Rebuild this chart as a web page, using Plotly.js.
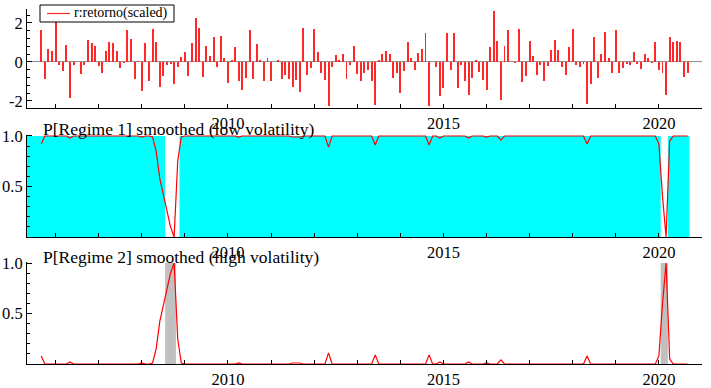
<!DOCTYPE html>
<html><head><meta charset="utf-8">
<script src="https://cdn.plot.ly/plotly-3.0.1.min.js"></script>
<style>html,body{margin:0;padding:0;background:#fff}</style>
</head><body><div id="chart" style="width:711px;height:388px"></div>
<script>
// Monthly data, first observation September 2005
const startYear = 2005, startMonth = 9;

const retorno = [
 1.64,-0.87,0.68,0.58,2.05,-0.14,-0.48,0.85,-1.86,-0.17,
 -0.02,-0.62,-0.14,1.11,0.97,0.84,-0.19,-0.56,0.58,1.03,
 0.96,0.55,-0.31,-0.05,1.62,1.18,-0.87,0.07,-1.50,0.97,
 -0.97,1.69,1.03,-1.30,-0.73,-0.17,-0.10,-1.13,-0.24,0.27,
 0.51,-0.73,0.97,2.26,1.74,-0.77,0.84,0.31,1.26,-0.24,
 1.32,0.21,-1.09,0.10,0.79,-0.97,-1.45,-0.82,1.62,-0.89,
 0.91,0.10,-0.97,0.21,-0.97,-0.02,0.10,-0.89,-0.67,-0.89,
 -1.30,-0.92,-1.56,1.73,-0.67,-0.31,1.68,0.53,-0.56,-0.92,
 -2.24,-0.26,0.36,0.10,0.43,-0.89,-0.14,0.84,-0.63,-0.99,
 -0.57,-0.41,-0.97,-2.19,0.10,0.41,0.58,0.41,-0.82,-0.56,
 -1.61,-0.44,1.01,0.21,-0.41,0.48,0.68,1.49,-2.24,0.02,
 -0.24,-1.76,-1.35,1.49,-0.41,1.49,-1.35,-0.14,-0.97,-1.71,
 -0.82,0.10,-0.50,-0.92,-1.45,0.79,2.60,1.06,-1.97,0.84,
 1.64,-0.02,-0.07,1.69,-1.03,-0.72,1.06,0.31,-0.66,-0.14,
 -0.99,-0.21,0.63,1.11,0.63,-0.24,-0.67,0.75,1.69,-0.14,
 -0.24,-0.09,-2.15,-1.15,1.26,-0.82,0.41,1.54,0.21,-0.56,
 1.64,-0.56,-0.31,-0.09,-0.14,0.53,-0.09,-0.34,0.41,0.21,
 -0.07,1.01,-0.41,-0.56,-1.71,1.30,1.04,1.09,1.04,-0.77,
 -0.56
];

const pRegime1 = [
 0.92,1,1,1,1,1,1,1,0.98,1,
 1,1,1,1,1,1,1,1,1,1,
 1,1,1,1,1,1,1,1,0.99,1,
 1,0.99,0.85,0.58,0.42,0.26,0.10,0.00,0.75,0.99,
 1,1,1,1,1,1,1,1,1,1,
 1,1,1,1,1,0.99,1,1,1,1,
 1,1,1,1,1,1,1,1,1,1,
 0.99,0.99,0.99,1,1,1,1,1,1,1,
 0.89,1,1,1,1,1,1,1,1,1,
 1,1,1,0.91,1,1,1,1,1,1,
 1,1,1,1,1,1,1,1,0.91,1,
 1,0.98,1,1,1,1,1,1,1,0.98,
 1,1,1,1,0.99,1,1,1,0.96,1,
 1,1,1,1,1,1,1,1,1,1,
 1,1,1,1,1,1,1,1,1,1,
 1,1,0.92,1,1,1,1,1,1,1,
 1,1,1,1,1,1,1,1,1,1,
 1,1,0.92,0.40,0.00,0.95,1,1,1,1,
 1
];

const pRegime2 = [
 0.08,0,0,0,0,0,0,0,0.02,0,
 0,0,0,0,0,0,0,0,0,0,
 0,0,0,0,0,0,0,0,0.01,0,
 0,0.01,0.15,0.42,0.58,0.74,0.90,1.00,0.25,0.01,
 0,0,0,0,0,0,0,0,0,0,
 0,0,0,0,0,0.01,0,0,0,0,
 0,0,0,0,0,0,0,0,0,0,
 0.01,0.01,0.01,0,0,0,0,0,0,0,
 0.11,0,0,0,0,0,0,0,0,0,
 0,0,0,0.09,0,0,0,0,0,0,
 0,0,0,0,0,0,0,0,0.09,0,
 0,0.02,0,0,0,0,0,0,0,0.02,
 0,0,0,0,0.01,0,0,0,0.04,0,
 0,0,0,0,0,0,0,0,0,0,
 0,0,0,0,0,0,0,0,0,0,
 0,0,0.08,0,0,0,0,0,0,0,
 0,0,0,0,0,0,0,0,0,0,
 0,0,0.08,0.60,1.00,0.05,0,0,0,0,
 0
];

// month indices not shaded as low-volatility / shaded as high-volatility
const lowGapMonths = [35,36,37,38,173,174];
const highMonths = [35,36,37,173,174];

const seriesName = 'r:retorno(scaled)';
const title1 = 'P[Regime 1] smoothed (low volatility)';
const title2 = 'P[Regime 2] smoothed (high volatility)';

const xRange = [2005.336, 2021.0];
const xTickVals = [2010, 2015, 2020];
const xTickText = ['2010', '2015', '2020'];
const y1TickVals = [-2, 0, 2];
const y1TickText = ['-2', '0', '2'];
const pTickVals = [0.5, 1.0];
const pTickText = ['0.5', '1.0'];

const t = retorno.map((_, i) => startYear + (startMonth - 1 + i) / 12);

function stepFill(flags, xStart) {
  const xs = [], ys = [];
  const half = 1 / 24;
  flags.forEach((f, i) => {
    xs.push(i === 0 && xStart !== undefined ? xStart : t[i] - half);
    ys.push(f);
  });
  xs.push(t[t.length - 1] + half);
  ys.push(flags[flags.length - 1]);
  return { xs, ys };
}

const lowFlags = t.map((_, i) => lowGapMonths.includes(i) ? 0 : 1);
const highFlags = t.map((_, i) => highMonths.includes(i) ? 1 : 0);
const lowFill = stepFill(lowFlags, xRange[0]);
const highFill = stepFill(highFlags);

const serif = 'Liberation Serif, Times New Roman, serif';
const tickFont = { family: serif, size: 16.5, color: '#000' };
const red = 'rgb(255,40,40)';

const traces = [
  { type: 'bar', x: t, y: retorno, width: 0.55 / 12, xaxis: 'x', yaxis: 'y', name: seriesName,
    marker: { color: red, line: { width: 0 } }, showlegend: false, hoverinfo: 'x+y' },
  { type: 'scatter', mode: 'lines', x: lowFill.xs, y: lowFill.ys, xaxis: 'x2', yaxis: 'y2',
    line: { shape: 'hv', width: 0, color: 'rgba(0,255,255,0)' }, fill: 'tozeroy',
    fillcolor: '#00ffff', showlegend: false, hoverinfo: 'skip' },
  { type: 'scatter', mode: 'lines', x: t, y: pRegime1, xaxis: 'x2', yaxis: 'y2',
    line: { color: '#ff0000', width: 1.2 }, showlegend: false },
  { type: 'scatter', mode: 'lines', x: highFill.xs, y: highFill.ys, xaxis: 'x3', yaxis: 'y3',
    line: { shape: 'hv', width: 0, color: 'rgba(192,192,192,0)' }, fill: 'tozeroy',
    fillcolor: '#c0c0c0', showlegend: false, hoverinfo: 'skip' },
  { type: 'scatter', mode: 'lines', x: t, y: pRegime2, xaxis: 'x3', yaxis: 'y3',
    line: { color: '#ff0000', width: 1.2 }, showlegend: false }
];

function xAxis(anchor) {
  return {
    anchor: anchor, domain: [0, 1], range: xRange,
    tickmode: 'array', tickvals: xTickVals, ticktext: xTickText,
    ticks: 'inside', ticklen: 4, tickcolor: '#000', tickwidth: 1,
    minor: { tickmode: 'linear', tick0: 2005, dtick: 1, ticks: 'inside', ticklen: 4, tickcolor: '#000', tickwidth: 1 },
    showline: true, linecolor: '#000', linewidth: 1,
    showgrid: false, zeroline: false, tickfont: tickFont, fixedrange: true
  };
}
function pAxis(domain, anchor) {
  return {
    anchor: anchor, domain: domain, range: [0, 1.01],
    tickmode: 'array', tickvals: pTickVals, ticktext: pTickText,
    ticks: 'inside', ticklen: 5, tickcolor: '#000',
    minor: { tickmode: 'linear', tick0: 0, dtick: 0.1, ticks: 'inside', ticklen: 3, tickcolor: '#000' },
    showline: true, linecolor: '#000', linewidth: 1,
    showgrid: false, zeroline: false, tickfont: tickFont, fixedrange: true
  };
}

// legend box geometry in paper fractions (plot area is 675 px wide starting at 27 px; full height 388 px)
const px = v => (v - 27) / 675;
const py = v => 1 - v / 388;

const layout = {
  width: 711, height: 388,
  margin: { l: 27, r: 9, t: 0, b: 0 },
  paper_bgcolor: '#fff', plot_bgcolor: '#fff',
  bargap: 0,
  showlegend: false,
  xaxis: xAxis('y'),
  yaxis: {
    anchor: 'x', domain: [0.7216, 0.976], range: [-2.36, 2.7],
    tickmode: 'array', tickvals: y1TickVals, ticktext: y1TickText,
    ticks: 'inside', ticklen: 5, tickcolor: '#000',
    minor: { tickmode: 'linear', tick0: 0, dtick: 0.4, ticks: 'inside', ticklen: 3, tickcolor: '#000' },
    showline: true, linecolor: '#000', linewidth: 1,
    showgrid: false, zeroline: true, zerolinecolor: '#909090', zerolinewidth: 1,
    tickfont: tickFont, fixedrange: true
  },
  xaxis2: xAxis('y2'),
  yaxis2: pAxis([0.3892, 0.6521], 'x2'),
  xaxis3: xAxis('y3'),
  yaxis3: pAxis([0.0619, 0.3247], 'x3'),
  shapes: [
    { type: 'rect', xref: 'paper', yref: 'paper', x0: px(40), x1: px(174), y0: py(22), y1: py(5),
      fillcolor: '#fff', line: { color: '#000', width: 1 }, layer: 'above' },
    { type: 'line', xref: 'paper', yref: 'paper', x0: px(47), x1: px(70), y0: py(13.5), y1: py(13.5),
      line: { color: red, width: 1.2 }, layer: 'above' }
  ],
  annotations: [
    { xref: 'paper', yref: 'paper', x: px(72), y: py(13.5), xanchor: 'left', yanchor: 'middle',
      text: seriesName, showarrow: false, font: { family: serif, size: 14, color: '#000' } },
    { xref: 'paper', yref: 'paper', x: px(41), y: py(129.5), xanchor: 'left', yanchor: 'middle',
      text: title1, showarrow: false, font: { family: serif, size: 17.5, color: '#000' } },
    { xref: 'paper', yref: 'paper', x: px(41), y: py(257), xanchor: 'left', yanchor: 'middle',
      text: title2, showarrow: false, font: { family: serif, size: 17.5, color: '#000' } }
  ]
};

Plotly.newPlot('chart', traces, layout, { displayModeBar: false, staticPlot: true });
</script>
</body></html>
